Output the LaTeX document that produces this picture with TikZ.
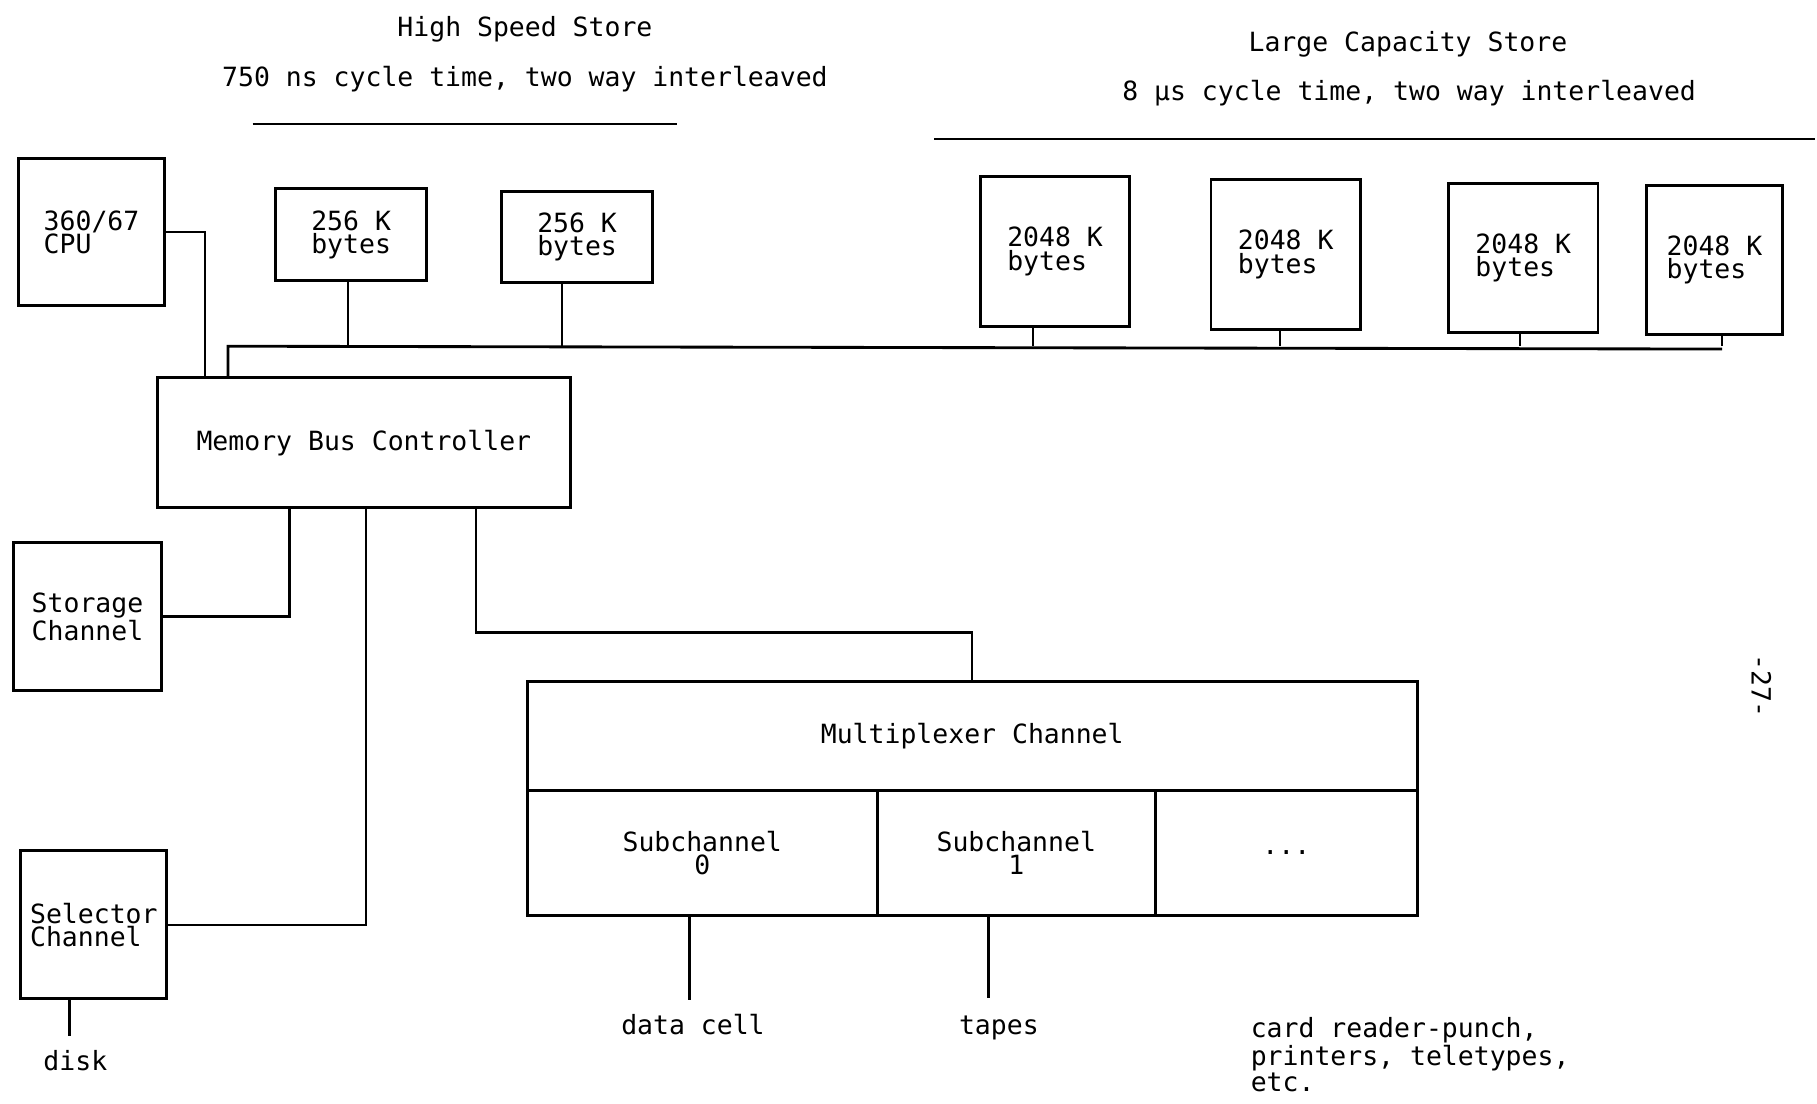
\documentclass[tikz,border=0pt]{standalone}
\usepackage{fontspec}
\newfontfamily\twfont{DejaVu Sans Mono}
\usetikzlibrary{calc}
\begin{document}
\begin{tikzpicture}[x=0.02cm,y=-0.02cm,
  txt/.style={font=\twfont\fontsize{13}{11.4}\selectfont},
  box/.style={draw,line width=1.4pt,inner sep=0pt,align=left,txt},
  cbox/.style={box,align=center},
  sz/.style 2 args={minimum width=#1*0.02cm,minimum height=#2*0.02cm},
  lbl/.style={inner sep=0pt,align=left,txt},
  wire/.style={line width=1.1pt},
  rule/.style={line width=1.4pt}]
\useasboundingbox (0,0) rectangle (1568,952);

% titles
\node[lbl] (hst) at (453,25) {High Speed Store};
\node[lbl] (hsc) at (453,68) {750 ns cycle time, two way interleaved};
\draw[rule] (218,107) -- (584,107);
\node[lbl] (lct) at (1215,38) {Large Capacity Store};
\node[lbl] (lcc) at (1216,80) {8 μs cycle time, two way interleaved};
\draw[rule] (806,120) -- (1566,120);

% boxes
\node[box,sz={126}{127}] (cpu) at (79,200.5) {360/67\\CPU};
\node[box,sz={130}{79}] (hs1) at (303,202.5) {256 K\\bytes};
\node[box,sz={130}{79}] (hs2) at (498,204.5) {256 K\\bytes};
\node[box,sz={129}{130}] (lc1) at (910.5,217) {2048 K\\bytes};
\node[box,sz={129}{129}] (lc2) at (1109.5,219.5) {2048 K\\bytes};
\node[box,sz={129}{129}] (lc3) at (1314.5,222.5) {2048 K\\bytes};
\node[box,sz={117}{129}] (lc4) at (1479.5,224.5) {2048 K\\bytes};
\node[box,sz={356}{112}] (mbc) at (314,382) {Memory Bus Controller};
\node[box,sz={127}{128}] (stor) at (75.5,532) {Storage\\Channel};
\node[box,sz={126}{128}] (sel) at (81,798) {Selector\\Channel};
\node[cbox,sz={768}{94}] (mux) at (839,635) {Multiplexer Channel};
\node[cbox,sz={302}{108}] (sub0) at (606,736) {Subchannel\\0};
\node[cbox,sz={240}{108}] (sub1) at (877,736) {Subchannel\\1};
\node[cbox,sz={226}{108}] (sub2) at (1110,736) {...};

% CPU to MBC
\draw[wire] (cpu.east) -| ($(mbc.north west)+(42,0)$);

% memory bus
\coordinate (busL) at ($(mbc.north west)+(62,-26)$);
\coordinate (busR) at ($(lc4.south)+(6.5,11)$);
\draw[rule] ($(mbc.north west)+(62,0)$) -- (busL) -- (busR);
\coordinate (d1) at ($(hs1.south)+(-3,0)$);
\coordinate (d2) at ($(hs2.south)+(-13,0)$);
\coordinate (d3) at ($(lc1.south)+(-19,0)$);
\coordinate (d4) at ($(lc2.south)+(-5,0)$);
\coordinate (d5) at ($(lc3.south)+(-3,0)$);
\coordinate (d6) at ($(lc4.south)+(6.5,0)$);
\foreach \d in {d1,d2,d3,d4,d5,d6} \draw[wire] (\d) -- (\d |- busL);

% MBC to channels
\draw[wire] ($(mbc.south west)+(115,0)$) |- (stor.east);
\draw[wire] ($(mbc.south west)+(181,0)$) |- (sel.east);
\coordinate (muxin) at ($(mux.north west)+(385,0)$);
\draw[wire] ($(mbc.south west)+(276,0)$) |- ($(muxin)+(0,-41)$) -- (muxin);

% devices
\node[lbl] (disk) at (65,915) {disk};
\coordinate (diskend) at ($(sel.south)+(-21,31)$);
\draw[wire] ($(sel.south)+(-21,0)$) -- (diskend);
\node[lbl] (dcell) at (598,884) {data cell};
\coordinate (dcellend) at ($(sub0.south)+(-11,72)$);
\draw[wire] ($(sub0.south)+(-11,0)$) -- (dcellend);
\node[lbl] (tapes) at (862,887) {tapes};
\coordinate (tapesend) at ($(sub1.south)+(-24,70)$);
\draw[wire] ($(sub1.south)+(-24,0)$) -- (tapesend);
\node[lbl,anchor=north west] (card) at (1079,878) {card reader-punch,\\printers, teletypes,\\etc.};

% page number
\node[lbl,rotate=-90] (page) at (1520,592) {-27-};
\end{tikzpicture}
\end{document}
